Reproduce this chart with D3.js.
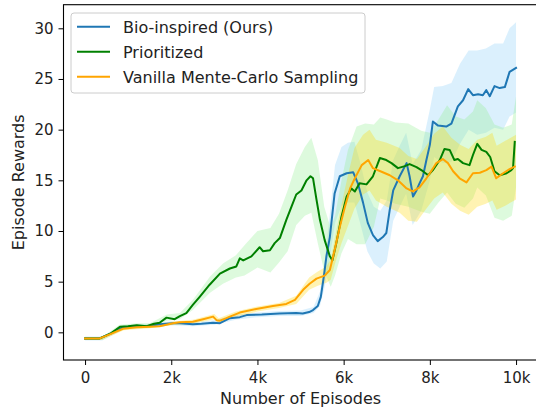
<!DOCTYPE html>
<html><head><meta charset="utf-8">
<script src="https://cdn.jsdelivr.net/npm/d3@7"></script>
<style>html,body{margin:0;padding:0;background:#fff;}svg{display:block;font-family:"DejaVu Sans",sans-serif;}</style>
</head><body>
<script>
// ---- data ----
const seriesNames = ["Bio-inspired (Ours)", "Prioritized", "Vanilla Mente-Carlo Sampling"];
const xTickValues = [0, 2000, 4000, 6000, 8000, 10000];
const xTickLabels = ["0", "2k", "4k", "6k", "8k", "10k"];
const yTickValues = [0, 5, 10, 15, 20, 25, 30];

const blueEp = [0,340,600,880,1200,1500,1730,2040,2200,2500,2700,2970,3130,3360,3590,3750,4100,4510,4900,5050,5200,5290,5400,5470,5540,5600,5680,5790,5910,6070,6220,6330,6450,6560,6680,6790,6910,6990,7070,7150,7300,7460,7530,7610,7690,7760,7840,7920,8000,8070,8190,8380,8500,8650,8770,8890,9000,9120,9230,9310,9390,9500,9620,9740,9850,10000];
const blueMean = [-0.6,-0.6,-0.1,0.5,0.6,0.65,0.8,0.9,0.9,0.8,0.85,0.95,0.9,1.4,1.5,1.7,1.75,1.85,1.9,1.85,2.0,2.2,2.6,3.5,5.5,7.5,9.4,13.7,15.4,15.7,15.8,14.7,12.8,10.8,9.6,9.0,9.4,9.8,12.1,14.0,15.4,16.7,15.4,13.4,14.0,14.7,15.4,17.0,18.5,20.8,20.4,20.3,20.6,22.3,22.9,24.0,23.4,23.5,23.4,23.9,23.3,24.3,24.1,24.2,25.7,26.1];
const blueBandEp = [0,400,900,1500,2000,2500,3000,3500,4000,4500,5000,5300,5450,5550,5650,5800,5950,6100,6250,6400,6550,6700,6850,7000,7150,7300,7450,7600,7800,8000,8100,8300,8500,8700,8900,9100,9300,9500,9700,9850,10000];
const blueLow = [-0.8,-0.8,0.3,0.45,0.7,0.6,0.75,1.25,1.5,1.6,1.6,1.9,2.6,4.3,6.5,10.8,12.5,12.8,12.8,10.5,8.0,6.8,6.3,7.0,11.0,12.4,13.7,10.6,12.0,15.0,17.3,16.7,16.8,18.6,20.0,19.5,19.7,20.2,20.0,21.3,21.7];
const blueHigh = [-0.4,-0.4,0.7,0.85,1.1,1.0,1.2,1.75,1.95,2.1,2.15,2.5,4.0,6.7,10.5,16.5,18.3,18.7,18.8,16.5,13.8,12.4,12.0,13.0,17.0,18.4,19.7,16.6,18.0,22.0,24.2,24.3,24.6,26.5,27.8,27.8,28.0,28.5,28.5,30.0,30.6];

const greenEp = [0,340,600,810,1000,1200,1430,1600,1730,1890,2080,2200,2350,2500,2660,2890,3130,3360,3510,3590,3670,3860,4050,4130,4290,4400,4520,4670,4790,4900,5020,5140,5230,5290,5370,5450,5560,5680,5740,5830,5950,6070,6180,6260,6370,6530,6680,6840,6990,7110,7260,7420,7530,7690,7840,7960,8070,8230,8340,8460,8570,8650,8770,8920,9000,9100,9200,9310,9400,9500,9620,9780,9890,9930,9970];
const greenMean = [-0.6,-0.6,-0.1,0.55,0.6,0.7,0.6,0.85,0.95,1.45,1.3,1.6,1.9,2.7,3.5,4.7,5.8,6.3,6.5,7.3,7.1,7.5,8.4,8.0,8.1,8.8,9.3,11.1,12.4,13.6,14.0,15.0,15.4,15.2,13.1,11.1,9.1,7.5,7.1,8.8,11.4,13.4,14.2,13.9,14.7,14.6,15.4,17.2,17.0,16.7,16.2,16.4,16.6,16.3,15.9,15.5,16.0,17.0,18.1,18.0,17.0,17.1,16.7,16.5,17.5,18.6,18.0,17.8,17.3,15.9,15.5,15.7,16.0,16.2,18.8];
const greenBandEp = [0,400,800,1200,1500,1900,2200,2500,2900,3200,3500,3700,4000,4300,4500,4700,4900,5100,5250,5400,5550,5700,5800,5950,6100,6300,6500,6700,6850,7000,7200,7500,7800,8000,8200,8400,8600,8800,9000,9100,9300,9500,9700,9900,10000];
const greenLow = [-0.75,-0.75,0.35,0.5,0.45,1.15,1.3,2.2,3.9,4.8,5.4,5.6,6.4,5.9,6.9,8.0,10.6,11.5,11.8,8.8,6.0,4.5,5.6,7.8,9.2,8.7,8.7,10.4,13.2,13.0,12.7,12.4,11.9,11.7,12.8,13.8,12.7,12.3,13.2,14.3,13.5,11.3,11.0,11.5,14.3];
const greenHigh = [-0.45,-0.45,0.75,0.9,0.9,1.75,1.9,3.2,5.5,6.8,7.6,8.6,10.0,10.3,11.7,14.0,16.6,18.3,19.2,17.0,12.4,10.3,11.5,15.0,18.0,20.3,20.6,20.5,21.2,21.0,20.7,20.6,19.9,19.7,21.0,22.4,21.3,21.0,21.8,22.9,22.1,20.5,20.2,20.5,23.3];

const orangeEp = [0,340,600,880,1200,1500,1730,2040,2200,2500,2740,2970,3050,3130,3280,3360,3590,3970,4360,4670,4870,5060,5210,5370,5560,5680,5790,5910,6030,6150,6260,6420,6570,6680,6880,7070,7260,7460,7610,7760,7920,8000,8150,8300,8420,8540,8690,8850,9000,9160,9310,9430,9540,9700,9850,9970];
const orangeMean = [-0.6,-0.6,-0.15,0.35,0.5,0.55,0.6,0.9,1.0,1.05,1.3,1.55,1.2,1.15,1.4,1.55,1.95,2.3,2.6,2.8,3.2,4.2,4.8,5.3,5.6,6.15,8.1,10.4,12.4,14.2,15.2,16.5,17.0,16.2,15.85,15.5,15.0,14.2,13.9,14.3,15.2,15.7,16.7,17.1,16.7,15.9,15.2,14.8,15.7,15.75,16.0,16.35,15.2,15.7,16.1,16.35];
const orangeBandEp = [0,400,900,1500,2000,2500,3000,3100,3500,4000,4500,4900,5200,5400,5600,5700,5800,5950,6100,6250,6450,6600,6750,7000,7300,7500,7700,7900,8100,8300,8500,8700,8900,9100,9300,9450,9550,9750,10000];
const orangeLow = [-0.75,-0.75,0.2,0.4,0.7,0.85,1.3,0.95,1.55,2.05,2.4,2.8,4.2,4.6,4.9,5.2,6.8,8.8,10.5,12.2,13.6,14.0,13.0,12.4,11.8,11.0,10.9,12.1,13.2,13.8,12.7,12.0,11.6,12.4,12.7,13.0,12.1,12.5,13.1];
const orangeHigh = [-0.45,-0.45,0.55,0.7,1.05,1.25,1.8,1.4,2.05,2.55,2.9,3.6,5.4,6.0,6.5,7.2,9.4,12.6,15.5,18.2,19.5,20.0,19.0,18.7,18.2,17.4,17.1,18.3,19.6,20.3,19.2,18.5,18.1,19.0,19.3,19.7,18.4,18.9,19.5];

// ---- chart ----
const W = 536, H = 408;
const padL = 63.5, padR = 537.6, padT = 4.7, padB = 360;
const svg = d3.select("body").append("svg").attr("width", W).attr("height", H);
const x = d3.scaleLinear().domain([-500, 10500]).range([padL, padR]);
const y = d3.scaleLinear().domain([-2.73, 32.33]).range([padB, padT]);

const series = [
  {name: seriesNames[0], ep: blueEp, mean: blueMean, bep: blueBandEp, lo: blueLow, hi: blueHigh, line: "#1f77b4", fill: "#87cefa"},
  {name: seriesNames[1], ep: greenEp, mean: greenMean, bep: greenBandEp, lo: greenLow, hi: greenHigh, line: "#008000", fill: "#90ee90"},
  {name: seriesNames[2], ep: orangeEp, mean: orangeMean, bep: orangeBandEp, lo: orangeLow, hi: orangeHigh, line: "#ffa500", fill: "#ffd700"}
];

const area = d3.area().x(d => x(d[0])).y0(d => y(d[1])).y1(d => y(d[2]));
const line = d3.line().x(d => x(d[0])).y(d => y(d[1]));

series.forEach(s => {
  svg.append("path")
    .attr("d", area(s.bep.map((e, i) => [e, s.lo[i], s.hi[i]])))
    .attr("fill", s.fill).attr("fill-opacity", 0.3).attr("stroke", "none");
});
series.forEach(s => {
  svg.append("path")
    .attr("d", line(s.ep.map((e, i) => [e, s.mean[i]])))
    .attr("fill", "none").attr("stroke", s.line).attr("stroke-width", 2)
    .attr("stroke-linejoin", "round").attr("stroke-linecap", "square");
});

// axes
const xAxis = d3.axisBottom(x).tickValues(xTickValues).tickFormat((d, i) => xTickLabels[i]).tickSize(5).tickPadding(7);
const yAxis = d3.axisLeft(y).tickValues(yTickValues).tickFormat(d3.format("d")).tickSize(5).tickPadding(5);
const gx = svg.append("g").attr("transform", `translate(0,${padB})`).call(xAxis);
const gy = svg.append("g").attr("transform", `translate(${padL},0)`).call(yAxis);
[gx, gy].forEach(g => {
  g.select(".domain").remove();
  g.selectAll(".tick line").attr("stroke", "#000").attr("stroke-width", 1);
  g.selectAll(".tick text").attr("fill", "#222").style("font-size", "15px").style("font-family", "DejaVu Sans");
});

// spines
svg.append("rect").attr("x", padL).attr("y", padT).attr("width", padR - padL).attr("height", padB - padT)
  .attr("fill", "none").attr("stroke", "#000").attr("stroke-width", 1.1);

// labels
svg.append("text").attr("x", (padL + padR) / 2).attr("y", 404).attr("text-anchor", "middle")
  .style("font-size", "16px").attr("fill", "#222").text("Number of Episodes");
svg.append("text").attr("transform", `translate(23.5,${(padT + padB) / 2}) rotate(-90)`).attr("text-anchor", "middle")
  .style("font-size", "16px").attr("fill", "#222").text("Episode Rewards");

// legend
const lg = svg.append("g");
lg.append("rect").attr("x", 71).attr("y", 13).attr("width", 294).attr("height", 80).attr("rx", 3)
  .attr("fill", "#fff").attr("fill-opacity", 0.8).attr("stroke", "#cccccc").attr("stroke-width", 1);
series.forEach((s, i) => {
  const ly = 26.7 + i * 25;
  lg.append("line").attr("x1", 77).attr("x2", 110).attr("y1", ly).attr("y2", ly)
    .attr("stroke", s.line).attr("stroke-width", 2);
  lg.append("text").attr("x", 123).attr("y", ly + 5.8).style("font-size", "16px").attr("fill", "#222").text(s.name);
});
</script>
</body></html>
